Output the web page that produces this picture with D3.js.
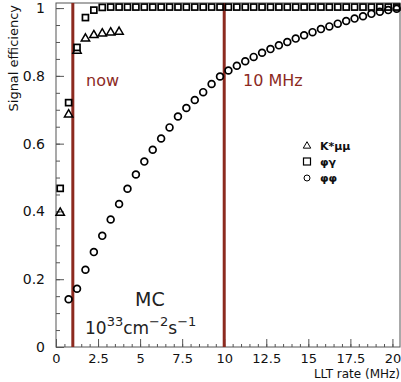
<!DOCTYPE html>
<html>
<head>
<meta charset="utf-8">
<script src="https://cdn.jsdelivr.net/npm/d3@7"></script>
<style>
  body { margin: 0; background: #fff; }
  text { font-family: "DejaVu Sans", Verdana, sans-serif; }
</style>
</head>
<body>
<div id="chart"></div>
<script>
// K* mu mu (triangles)
const rateKmm = [0.25, 0.75, 1.25, 1.75, 2.25, 2.75, 3.25, 3.75];
const effKmm = [0.396, 0.686, 0.874, 0.910, 0.920, 0.925, 0.928, 0.930];

// phi gamma (squares)
const ratePhiGamma = [0.25, 0.75, 1.25, 1.75, 2.25, 2.75, 3.25, 3.75, 4.25, 4.75,
  5.25, 5.75, 6.25, 6.75, 7.25, 7.75, 8.25, 8.75, 9.25, 9.75,
  10.25, 10.75, 11.25, 11.75, 12.25, 12.75, 13.25, 13.75, 14.25, 14.75,
  15.25, 15.75, 16.25, 16.75, 17.25, 17.75, 18.25, 18.75, 19.25, 19.75, 20.25];
const effPhiGamma = [0.468, 0.721, 0.884, 0.972, 0.994, 1.002, 1.003, 1.003, 1.003, 1.003,
  1.003, 1.003, 1.003, 1.003, 1.003, 1.003, 1.003, 1.003, 1.003, 1.003,
  1.003, 1.003, 1.003, 1.003, 1.003, 1.003, 1.003, 1.003, 1.003, 1.003,
  1.003, 1.003, 1.003, 1.003, 1.003, 1.003, 1.003, 1.003, 1.003, 1.003, 1.003];

// phi phi (circles)
const ratePhiPhi = [0.75, 1.25, 1.75, 2.25, 2.75, 3.25, 3.75, 4.25, 4.75,
  5.25, 5.75, 6.25, 6.75, 7.25, 7.75, 8.25, 8.75, 9.25, 9.75,
  10.25, 10.75, 11.25, 11.75, 12.25, 12.75, 13.25, 13.75, 14.25, 14.75,
  15.25, 15.75, 16.25, 16.75, 17.25, 17.75, 18.25, 18.75, 19.25, 19.75, 20.25];
const effPhiPhi = [0.141, 0.172, 0.228, 0.280, 0.328, 0.376, 0.422, 0.467, 0.509,
  0.547, 0.582, 0.615, 0.648, 0.680, 0.705, 0.729, 0.752, 0.776, 0.798,
  0.816, 0.830, 0.843, 0.856, 0.868, 0.879, 0.890, 0.900, 0.910, 0.920,
  0.929, 0.938, 0.946, 0.954, 0.962, 0.969, 0.976, 0.983, 0.989, 0.994, 0.998];

const xTicks = [0, 2.5, 5, 7.5, 10, 12.5, 15, 17.5, 20];
const xTickLabels = ["0", "2.5", "5", "7.5", "10", "12.5", "15", "17.5", "20"];
const yTicks = [0, 0.2, 0.4, 0.6, 0.8, 1];
const yTickLabels = ["0", "0.2", "0.4", "0.6", "0.8", "1"];
const cutRates = [1, 10];

const W = 401, H = 382;
const margin = {top: 3, right: 1, bottom: 35, left: 56};
const width = W - margin.left - margin.right,
      height = H - margin.top - margin.bottom;

const svg = d3.select("#chart").append("svg")
    .attr("width", W)
    .attr("height", H)
  .append("g")
    .attr("transform", `translate(${margin.left},${margin.top})`);

const x = d3.scaleLinear().domain([0, 20.45]).range([0, width]);
const y = d3.scaleLinear().domain([0, 1.015]).range([height, 0]);

const red = "#8c2a1f";
const axisColor = "#555";

// frame
svg.append("rect")
    .attr("width", width)
    .attr("height", height)
    .attr("fill", "none")
    .attr("stroke", axisColor)
    .attr("stroke-width", 1);

// x axis ticks (pointing inward)
svg.append("g")
    .attr("transform", `translate(0,${height})`)
    .call(d3.axisBottom(x).tickValues(d3.range(0, 20.3, 0.5)).tickSize(-3).tickFormat(""))
    .call(g => g.select(".domain").remove())
    .call(g => g.selectAll("line").attr("stroke", axisColor));

svg.append("g")
    .attr("transform", `translate(0,${height})`)
    .call(d3.axisBottom(x).tickValues(xTicks).tickSize(-8).tickPadding(7)
        .tickFormat((d, i) => xTickLabels[i]))
    .call(g => g.select(".domain").remove())
    .call(g => g.selectAll("line").attr("stroke", axisColor))
    .call(g => g.selectAll("text")
        .attr("font-size", 13)
        .attr("fill", "#111")
        .attr("font-family", "DejaVu Sans"));

// y axis ticks (pointing inward)
svg.append("g")
    .call(d3.axisLeft(y).tickValues(d3.range(0, 1.01, 0.05)).tickSize(-4).tickFormat(""))
    .call(g => g.select(".domain").remove())
    .call(g => g.selectAll("line").attr("stroke", axisColor));

svg.append("g")
    .call(d3.axisLeft(y).tickValues(yTicks).tickSize(-8).tickPadding(11)
        .tickFormat((d, i) => yTickLabels[i]))
    .call(g => g.select(".domain").remove())
    .call(g => g.selectAll("line").attr("stroke", axisColor))
    .call(g => g.selectAll("text")
        .attr("font-size", 14)
        .attr("fill", "#111")
        .attr("font-family", "DejaVu Sans"));

// axis titles
svg.append("text")
    .attr("x", width)
    .attr("y", height + 31)
    .attr("text-anchor", "end")
    .attr("font-size", 12)
    .attr("fill", "#111")
    .text("LLT rate (MHz)");

svg.append("text")
    .attr("transform", `translate(${-38},2) rotate(-90)`)
    .attr("text-anchor", "end")
    .attr("font-size", 13)
    .attr("fill", "#111")
    .text("Signal efficiency");

// vertical cut lines
svg.selectAll(".cut")
    .data(cutRates)
    .join("line")
    .attr("x1", d => x(d)).attr("x2", d => x(d))
    .attr("y1", 0).attr("y2", height)
    .attr("stroke", red)
    .attr("stroke-width", 3);

// markers
const tri = d3.symbol().type(d3.symbolTriangle).size(30);

svg.selectAll(".kmm")
    .data(rateKmm)
    .join("path")
    .attr("d", tri)
    .attr("transform", (d, i) => `translate(${x(d)},${y(effKmm[i])})`)
    .attr("fill", "none")
    .attr("stroke", "#000")
    .attr("stroke-width", 1.5);

svg.selectAll(".phig")
    .data(ratePhiGamma)
    .join("rect")
    .attr("x", d => x(d) - 3)
    .attr("y", (d, i) => y(effPhiGamma[i]) - 3)
    .attr("width", 6)
    .attr("height", 6)
    .attr("fill", "#fff")
    .attr("stroke", "#000")
    .attr("stroke-width", 1.7);

svg.selectAll(".phiphi")
    .data(ratePhiPhi)
    .join("circle")
    .attr("cx", d => x(d))
    .attr("cy", (d, i) => y(effPhiPhi[i]))
    .attr("r", 3.4)
    .attr("fill", "none")
    .attr("stroke", "#000")
    .attr("stroke-width", 1.7);

// annotations
svg.append("text")
    .attr("x", 30).attr("y", 83)
    .attr("font-size", 16)
    .attr("fill", red)
    .text("now");

svg.append("text")
    .attr("x", 187).attr("y", 83)
    .attr("font-size", 16)
    .attr("fill", red)
    .text("10 MHz");

svg.append("text")
    .attr("x", 79).attr("y", 303)
    .attr("font-size", 19)
    .attr("fill", "#222")
    .text("MC");

const lumi = svg.append("text")
    .attr("x", 29).attr("y", 331)
    .attr("font-size", 17)
    .attr("fill", "#222");
lumi.append("tspan").text("10");
lumi.append("tspan").attr("dy", -8).attr("font-size", 13).text("33");
lumi.append("tspan").attr("dy", 8).text("cm");
lumi.append("tspan").attr("dy", -8).attr("font-size", 13).text("\u22122");
lumi.append("tspan").attr("dy", 8).text("s");
lumi.append("tspan").attr("dy", -8).attr("font-size", 13).text("\u22121");

// legend
const legend = svg.append("g").attr("transform", "translate(251,142)");
const legendItems = ["K*\u03bc\u03bc", "\u03c6\u03b3", "\u03c6\u03c6"];

legend.append("path")
    .attr("d", d3.symbol().type(d3.symbolTriangle).size(24))
    .attr("transform", "translate(0,1)")
    .attr("fill", "none").attr("stroke", "#000").attr("stroke-width", 1);
legend.append("rect")
    .attr("x", -3.5).attr("y", 13).attr("width", 7).attr("height", 7)
    .attr("fill", "none").attr("stroke", "#000").attr("stroke-width", 1.2);
legend.append("circle")
    .attr("cx", 0).attr("cy", 33).attr("r", 3)
    .attr("fill", "none").attr("stroke", "#000").attr("stroke-width", 1);

legend.selectAll(".lt")
    .data(legendItems)
    .join("text")
    .attr("x", 13)
    .attr("y", (d, i) => 5 + i * 16)
    .attr("font-size", 11)
    .attr("font-weight", "bold")
    .attr("fill", "#111")
    .text(d => d);
</script>
</body>
</html>
